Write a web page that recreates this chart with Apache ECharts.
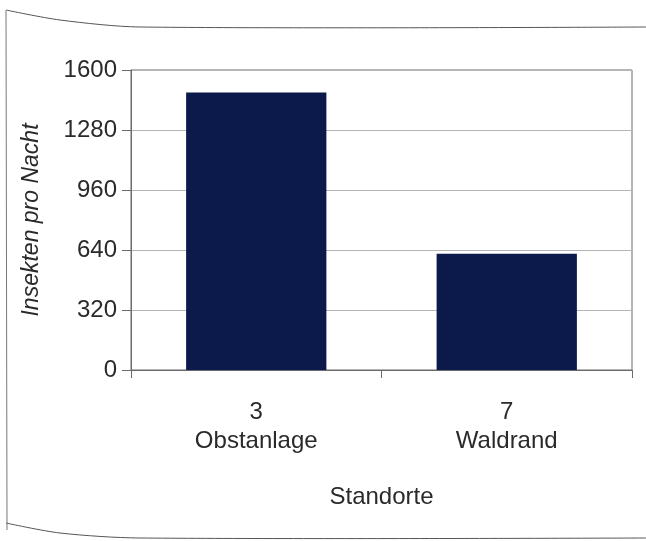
<!DOCTYPE html>
<html>
<head>
<meta charset="utf-8">
<script src="https://cdn.jsdelivr.net/npm/echarts@6/dist/echarts.min.js"></script>
<style>
  html, body { margin: 0; padding: 0; background: #fff; }
  #chart { width: 646px; height: 541px; }
</style>
</head>
<body>
<div id="chart"></div>
<script>
// data
var categories = ['3\nObstanlage', '7\nWaldrand'];
var insekten = [1480, 620];
var yTicks = [0, 320, 640, 960, 1280, 1600];

var chartDom = document.getElementById('chart');
var myChart = echarts.init(chartDom);
var font = '"Liberation Sans", Arial, sans-serif';

var option = {
  animation: false,
  textStyle: { fontFamily: font },
  grid: {
    left: 131,
    right: 14,
    top: 70,
    bottom: 171,
    show: true,
    borderColor: '#6b6b6b',
    borderWidth: 1
  },
  xAxis: {
    type: 'category',
    data: categories,
    name: 'Standorte',
    nameLocation: 'middle',
    nameGap: 115,
    nameTextStyle: { fontSize: 24, color: '#2a2a2a', fontFamily: font },
    axisLine: { lineStyle: { color: '#6b6b6b', width: 1 } },
    axisTick: { show: true, length: 8, lineStyle: { color: '#6b6b6b' } },
    axisLabel: {
      fontSize: 24,
      color: '#2a2a2a',
      lineHeight: 29,
      margin: 28,
      fontFamily: font
    }
  },
  yAxis: {
    type: 'value',
    min: yTicks[0],
    max: yTicks[yTicks.length - 1],
    interval: 320,
    name: 'Insekten pro Nacht',
    nameLocation: 'middle',
    nameGap: 88,
    nameTextStyle: { fontSize: 23, color: '#2a2a2a', fontStyle: 'italic', fontFamily: font },
    axisLine: { show: true, lineStyle: { color: '#6b6b6b', width: 1 } },
    axisTick: { show: true, length: 9, lineStyle: { color: '#6b6b6b' } },
    axisLabel: {
      fontSize: 24,
      color: '#2a2a2a',
      margin: 14,
      fontFamily: font,
      formatter: function (v) { return String(v); }
    },
    splitLine: { show: true, lineStyle: { color: '#b5b5b5', width: 1 } }
  },
  series: [{
    type: 'bar',
    data: insekten,
    barWidth: '56%',
    itemStyle: { color: '#0c1a4b' }
  }],
  graphic: [
    {
      type: 'polyline',
      shape: { points: [[6, 10], [60, 20], [140, 27], [646, 27]], smooth: 0.3 },
      style: { stroke: '#555', lineWidth: 1, fill: null },
      silent: true
    },
    {
      type: 'polyline',
      shape: { points: [[6, 10], [7, 530]] },
      style: { stroke: '#777', lineWidth: 1, fill: null },
      silent: true
    },
    {
      type: 'polyline',
      shape: { points: [[6, 523], [60, 533], [140, 538], [646, 538]], smooth: 0.3 },
      style: { stroke: '#555', lineWidth: 1, fill: null },
      silent: true
    }
  ]
};

option && myChart.setOption(option);
</script>
</body>
</html>
